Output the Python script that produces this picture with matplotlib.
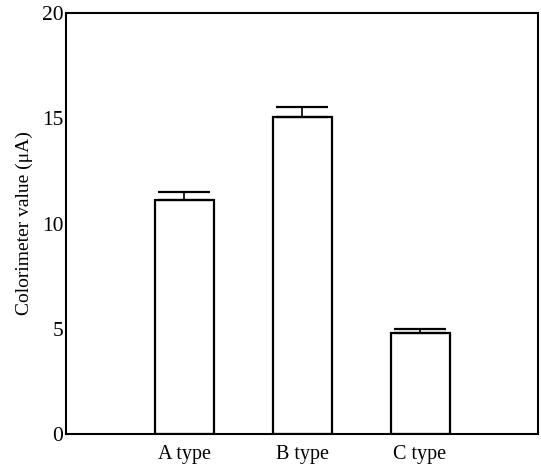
import matplotlib.pyplot as plt

plt.rcParams['font.family'] = ['Liberation Serif', 'DejaVu Serif']

categories = ['A type', 'B type', 'C type']
values = [11.1, 15.05, 4.8]
errors = [0.4, 0.5, 0.17]
positions = [1, 2, 3]

fig = plt.figure(figsize=(5.41, 4.67), dpi=100)
ax = fig.add_axes([0.122, 0.0707, 0.8725, 0.9013])

ax.bar(positions, values, width=0.5, color='white', edgecolor='black', linewidth=1.6, zorder=2)
# one-sided (upper) error bars
ax.errorbar(positions, values, yerr=[[0, 0, 0], errors], fmt='none', ecolor='black',
            elinewidth=1.2, capsize=19, capthick=1.6, zorder=3)

ax.set_xlim(0, 4)
ax.set_ylim(0, 20)
ax.set_xticks(positions)
ax.set_xticklabels(categories)
ax.set_yticks([0, 5, 10, 15, 20])
ax.tick_params(axis='y', length=0, labelsize=15.5, pad=2)
ax.tick_params(axis='x', length=0, labelsize=14.5, pad=8)
ax.set_ylabel('Colorimeter value (μA)', fontsize=14, labelpad=6)

for side in ['left', 'bottom', 'right', 'top']:
    ax.spines[side].set_linewidth(1.5)

fig.savefig('out.png', dpi=100)
